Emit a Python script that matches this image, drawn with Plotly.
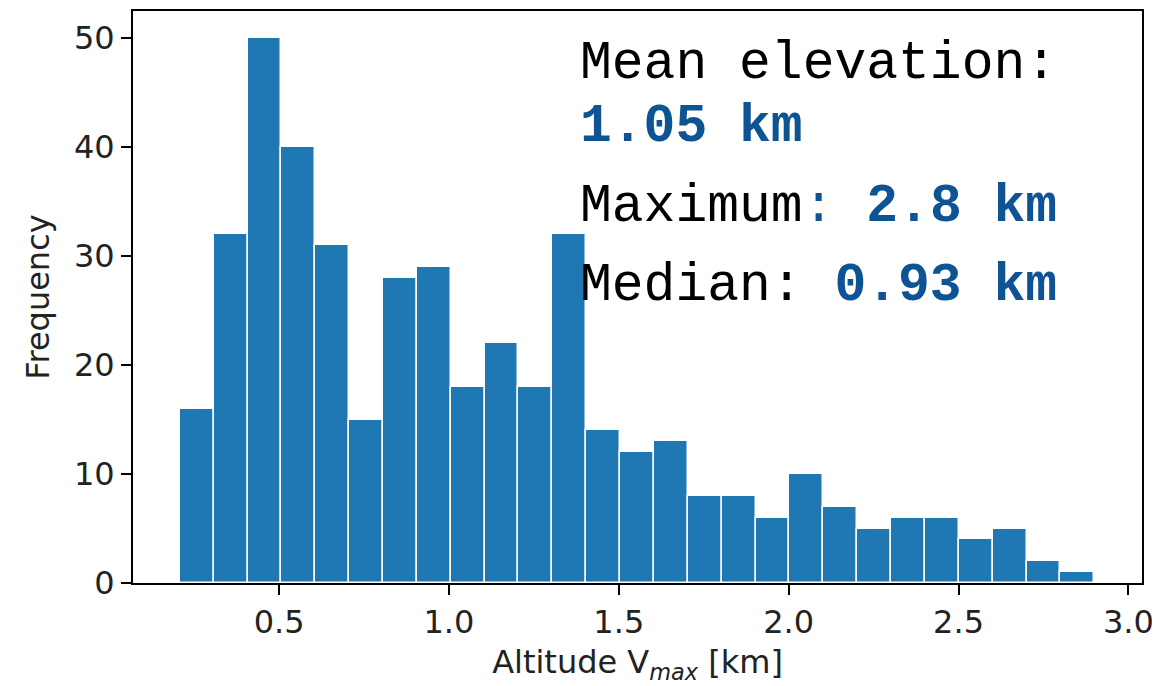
import plotly.graph_objects as go

# ---- data ----
counts = [16, 32, 50, 40, 31, 15, 28, 29, 18, 22, 18, 32, 14, 12, 13, 8, 8, 6, 10, 7, 5, 6, 6, 4, 5, 2, 1]
bin_start = 0.2077
bin_width = 0.0997
x_ticks = [0.5, 1.0, 1.5, 2.0, 2.5, 3.0]
y_ticks = [0, 10, 20, 30, 40, 50]
mean_km = "1.05 km"
max_km = "2.8 km"
median_km = "0.93 km"

BLUE_TXT = "#0e5394"
centers = [bin_start + bin_width * (i + 0.5) for i in range(len(counts))]

fig = go.Figure()
fig.add_trace(go.Bar(
    x=centers, y=counts, width=[bin_width] * len(counts),
    marker=dict(color="#1f77b4", line=dict(color="white", width=1.5)),
))

# page body has an 8px margin, so work in page coords and offset
OFF = 8
W, H = 1160 - OFF, 686 - OFF
# plot area in window pixels: x 132.5..1142, y 11..583.5
L = 132.5 - OFF
T = 11 - OFF
R = W - (1142 - OFF)
B = H - (583.5 - OFF)
pw = W - L - R
ph = H - T - B

def px_to_paper(xp, yp):
    # xp, yp in window pixels
    return (xp - OFF - L) / pw, (H - B - (yp - OFF)) / ph

mono = "Liberation Mono, Courier New, monospace"
fs = 53
lines = [
    ("Mean elevation:", 80),
    (f"<span style='color:{BLUE_TXT}'><b>{mean_km}</b></span>", 143),
    (f"Maximum<span style='color:{BLUE_TXT}'>: <b>{max_km}</b></span>", 223),
    (f"Median: <span style='color:{BLUE_TXT}'><b>{median_km}</b></span>", 302),
]
for txt, base in lines:
    xp, yp = px_to_paper(578, base - 0.3 * fs)
    fig.add_annotation(
        x=xp, y=yp, xref="paper", yref="paper", xanchor="left", yanchor="middle",
        text=txt, showarrow=False, font=dict(family=mono, size=fs, color="black"),
    )

axis_common = dict(
    showline=True, linecolor="black", linewidth=2, mirror=True,
    ticks="outside", ticklen=10, tickwidth=2, tickcolor="black",
    showgrid=False, zeroline=False,
    tickfont=dict(family="DejaVu Sans", size=32, color="#222"),
)
fig.update_xaxes(
    range=[0.07, 3.04], tickvals=x_ticks, ticktext=[f"{v:.1f}" for v in x_ticks],
    title=dict(text="Altitude V<sub><i>max</i></sub> [km]",
               font=dict(family="DejaVu Sans", size=32, color="#222"), standoff=10),
    **axis_common,
)
fig.update_yaxes(
    range=[0, 52.5], tickvals=y_ticks,
    title=dict(text="Frequency", font=dict(family="DejaVu Sans", size=32, color="#222"), standoff=15),
    **axis_common,
)
fig.update_layout(
    width=W, height=H, margin=dict(l=L, r=R, t=T, b=B, autoexpand=False),
    plot_bgcolor="white", paper_bgcolor="white", showlegend=False, bargap=0,
)
fig.write_html("out.html")
